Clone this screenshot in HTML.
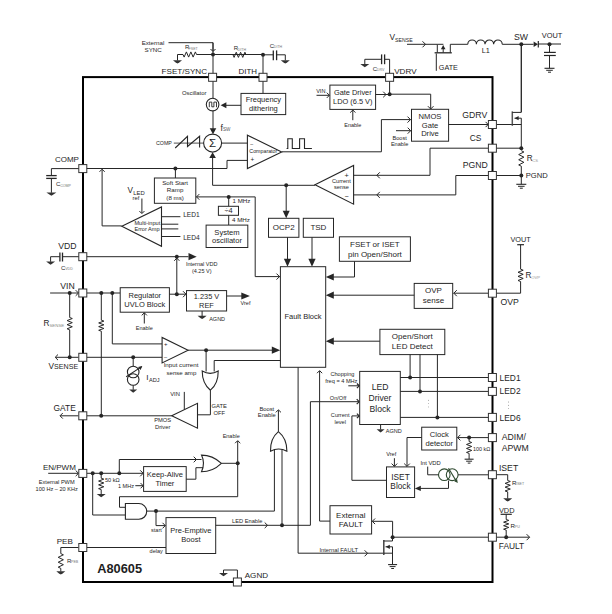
<!DOCTYPE html>
<html><head><meta charset="utf-8"><style>
html,body{margin:0;padding:0;background:#fff;}
svg{display:block;}
text{font-family:"Liberation Sans",sans-serif;}
</style></head><body>
<svg width="612" height="614" viewBox="0 0 612 614">
<rect x="0" y="0" width="612" height="614" fill="#fff"/>
<text x="153" y="45.03" font-size="6.2" text-anchor="middle" fill="#1e1e1e" >External</text>
<text x="153.2" y="52.43" font-size="6.2" text-anchor="middle" fill="#1e1e1e" >SYNC</text>
<polyline points="168.5,42.7 213,42.7 213,51" fill="none" stroke="#262626" stroke-width="1.0" stroke-linejoin="miter"/>
<polyline points="210.5,49.0 213,51.5 215.5,49.0" fill="none" stroke="#262626" stroke-width="1.0" stroke-linejoin="miter"/>
<line x1="213" y1="42.7" x2="213" y2="77.1" stroke="#262626" stroke-width="1.0"/>
<circle cx="213" cy="54.5" r="2.0" fill="#262626"/>
<line x1="177.5" y1="54.5" x2="183" y2="54.5" stroke="#262626" stroke-width="1.0"/>
<polyline points="183,54.5 184.125,57.1 186.375,51.9 188.625,57.1 190.875,51.9 193.125,57.1 195.375,51.9 196.5,54.5" fill="none" stroke="#262626" stroke-width="1.0" stroke-linejoin="miter"/>
<line x1="196.5" y1="54.5" x2="263" y2="54.5" stroke="#262626" stroke-width="1.0"/>
<polyline points="177.5,54.5 177.5,60.5" fill="none" stroke="#262626" stroke-width="1.0" stroke-linejoin="miter"/>
<polygon points="173.0,60.3 182.0,60.3 179.3,62.4 177.5,63.599999999999994 175.7,62.4" fill="#333" stroke="none" stroke-width="1.0"/>
<text x="184.9" y="49.46" font-size="6.0" text-anchor="start" fill="#1e1e1e" >R</text>
<text x="188.6" y="49.9" font-size="3.6" text-anchor="start" fill="#777" >FSET</text>
<circle cx="263" cy="54.8" r="2.0" fill="#262626"/>
<polyline points="233,54.8 234.08333333333334,57.4 236.25,52.199999999999996 238.41666666666666,57.4 240.58333333333334,52.199999999999996 242.75,57.4 244.91666666666666,52.199999999999996 246,54.8" fill="none" stroke="#262626" stroke-width="1.0" stroke-linejoin="miter"/>
<line x1="263" y1="54.8" x2="273.3" y2="54.8" stroke="#262626" stroke-width="1.0"/>
<line x1="273.3" y1="50.4" x2="273.3" y2="60.2" stroke="#262626" stroke-width="1.3"/>
<line x1="276.6" y1="50.4" x2="276.6" y2="60.2" stroke="#262626" stroke-width="1.3"/>
<polyline points="276.6,54.8 285.3,54.8 285.3,60.4" fill="none" stroke="#262626" stroke-width="1.0" stroke-linejoin="miter"/>
<polygon points="280.8,60.3 289.8,60.3 287.1,62.4 285.3,63.599999999999994 283.5,62.4" fill="#333" stroke="none" stroke-width="1.0"/>
<text x="233.8" y="50.16" font-size="6.0" text-anchor="start" fill="#1e1e1e" >R</text>
<text x="237.6" y="50.5" font-size="3.6" text-anchor="start" fill="#777" >DITH</text>
<text x="269.8" y="47.76" font-size="6.0" text-anchor="start" fill="#1e1e1e" >C</text>
<text x="273.8" y="48.1" font-size="3.6" text-anchor="start" fill="#777" >DITH</text>
<line x1="263" y1="54.8" x2="263" y2="93.4" stroke="#262626" stroke-width="1.0"/>
<polyline points="389.6,77.1 389.6,59.3 384.6,59.3" fill="none" stroke="#262626" stroke-width="1.0" stroke-linejoin="miter"/>
<line x1="384.6" y1="54.4" x2="384.6" y2="64.2" stroke="#262626" stroke-width="1.3"/>
<line x1="381.6" y1="54.4" x2="381.6" y2="64.2" stroke="#262626" stroke-width="1.3"/>
<polyline points="381.6,59.3 364.8,59.3 364.8,64.2" fill="none" stroke="#262626" stroke-width="1.0" stroke-linejoin="miter"/>
<polygon points="360.3,64.0 369.3,64.0 366.6,66.1 364.8,67.3 363.0,66.1" fill="#333" stroke="none" stroke-width="1.0"/>
<text x="372.8" y="70.96" font-size="6.0" text-anchor="start" fill="#1e1e1e" >C</text>
<text x="376.8" y="71.2" font-size="3.6" text-anchor="start" fill="#777" >DRV</text>
<text x="389.5" y="39.89" font-size="8.3" text-anchor="start" fill="#1e1e1e" >V</text>
<text x="395.0" y="42.07" font-size="5.2" text-anchor="start" fill="#1e1e1e" >SENSE</text>
<line x1="407" y1="44.3" x2="437.3" y2="44.3" stroke="#262626" stroke-width="1.0"/>
<polyline points="422.5,41.3 425.5,44.3 422.5,47.3" fill="none" stroke="#262626" stroke-width="1.0" stroke-linejoin="miter"/>
<line x1="437.3" y1="44.3" x2="437.3" y2="52.5" stroke="#262626" stroke-width="1.0"/>
<line x1="434.6" y1="52.8" x2="451.8" y2="52.8" stroke="#262626" stroke-width="1.3"/>
<line x1="450.3" y1="52.5" x2="450.3" y2="44.3" stroke="#262626" stroke-width="1.0"/>
<line x1="437.3" y1="44.3" x2="443.4" y2="44.3" stroke="#262626" stroke-width="1.0"/>
<line x1="450.3" y1="44.3" x2="467.8" y2="44.3" stroke="#262626" stroke-width="1.0"/>
<line x1="443.2" y1="48.5" x2="443.2" y2="52.5" stroke="#262626" stroke-width="1.0"/>
<polygon points="443.2,45.0 440.9,49.3 445.5,49.3" fill="#262626" stroke="none" stroke-width="1.0"/>
<line x1="436.3" y1="53.5" x2="436.3" y2="70.8" stroke="#262626" stroke-width="1.0"/>
<text x="438.8" y="70.19" font-size="7.2" text-anchor="start" fill="#1e1e1e" >GATE</text>
<path d="M467.8,44.3 a4.3,4.3 0 0 1 8.6,0 a4.3,4.3 0 0 1 8.6,0 a4.3,4.3 0 0 1 8.6,0 a4.3,4.3 0 0 1 8.6,0" fill="none" stroke="#262626" stroke-width="1.1"/>
<text x="485.7" y="53.13" font-size="7.3" text-anchor="middle" fill="#1e1e1e" >L1</text>
<line x1="502.2" y1="44.3" x2="533.5" y2="44.3" stroke="#262626" stroke-width="1.0"/>
<circle cx="521.3" cy="44.2" r="2.0" fill="#262626"/>
<text x="520.9" y="40.13" font-size="8.7" text-anchor="middle" fill="#1e1e1e" >SW</text>
<polygon points="533.6,41.4 533.6,47.0 538.0,44.2" fill="#262626" stroke="none" stroke-width="1.0"/>
<line x1="538.3" y1="41.0" x2="538.3" y2="47.4" stroke="#262626" stroke-width="1.2"/>
<line x1="538" y1="44.0" x2="561" y2="44.0" stroke="#262626" stroke-width="1.0"/>
<circle cx="549.5" cy="44.2" r="2.0" fill="#262626"/>
<text x="541.8" y="37.76" font-size="7.4" text-anchor="start" fill="#1e1e1e" >VOUT</text>
<line x1="549.5" y1="44.2" x2="549.5" y2="52.4" stroke="#262626" stroke-width="1.0"/>
<line x1="544" y1="52.4" x2="555.8" y2="52.4" stroke="#262626" stroke-width="1.2"/>
<line x1="544" y1="55.5" x2="555.8" y2="55.5" stroke="#262626" stroke-width="1.2"/>
<line x1="549.5" y1="55.3" x2="549.5" y2="68.2" stroke="#262626" stroke-width="1.0"/>
<line x1="544.5" y1="68.3" x2="554.5" y2="68.3" stroke="#262626" stroke-width="1.1"/>
<line x1="546.2" y1="70.3" x2="552.8" y2="70.3" stroke="#262626" stroke-width="1.0"/>
<line x1="548.0" y1="72.2" x2="551.0" y2="72.2" stroke="#262626" stroke-width="1.0"/>
<line x1="521.3" y1="44.2" x2="521.3" y2="112" stroke="#262626" stroke-width="1.0"/>
<rect x="83.0" y="77.1" width="409.5" height="504.9" fill="none" stroke="#000" stroke-width="2.0"/>
<text x="194.2" y="94.72" font-size="5.9" text-anchor="middle" fill="#1e1e1e" >Oscillator</text>
<line x1="213" y1="77.1" x2="213" y2="98.6" stroke="#262626" stroke-width="1.0"/>
<circle cx="212.6" cy="104.6" r="6.3" fill="none" stroke="#262626" stroke-width="1.1"/>
<path d="M209.3,107.2 V102.1 H211.8 V106.8 H213.9 V102.1 H216.5 V107.2" fill="none" stroke="#262626" stroke-width="0.9"/>
<line x1="213" y1="111" x2="213" y2="129" stroke="#262626" stroke-width="1.0"/>
<polygon points="213,134.2 209.7,128.2 216.3,128.2" fill="#262626" stroke="none" stroke-width="1.0"/>
<rect x="241" y="93.4" width="44.69999999999999" height="21.19999999999999" fill="#fff" stroke="#262626" stroke-width="1.0"/>
<text x="263.4" y="101.7" font-size="7.5" text-anchor="middle" fill="#1e1e1e" >Frequency</text>
<text x="263.4" y="110.8" font-size="7.5" text-anchor="middle" fill="#1e1e1e" >dithering</text>
<line x1="241" y1="105.3" x2="225" y2="105.3" stroke="#262626" stroke-width="1.0"/>
<polygon points="220.6,105.3 226.4,102.3 226.4,108.3" fill="#262626" stroke="none" stroke-width="1.0"/>
<text x="220.6" y="130.5" font-size="8.6" text-anchor="start" fill="#1e1e1e" >f</text>
<text x="222.9" y="130.8" font-size="4.6" text-anchor="start" fill="#555" >SW</text>
<circle cx="212.6" cy="143.1" r="9.0" fill="none" stroke="#262626" stroke-width="1.1"/>
<text x="212.6" y="147.3" font-size="11.5" text-anchor="middle" fill="#1e1e1e" >&#931;</text>
<polygon points="212.6,152.3 209.29999999999998,158.10000000000002 215.9,158.10000000000002" fill="#262626" stroke="none" stroke-width="1.0"/>
<polyline points="212.6,158 212.6,185.3 315,185.3" fill="none" stroke="#262626" stroke-width="1.0" stroke-linejoin="miter"/>
<text x="163.9" y="145.01" font-size="5.3" text-anchor="middle" fill="#1e1e1e" >COMP</text>
<line x1="173.8" y1="143.1" x2="203.6" y2="143.1" stroke="#262626" stroke-width="0.8"/>
<polyline points="175.2,148 187.5,136.3 187.5,146.5 199.6,136.3 199.6,147.6" fill="none" stroke="#262626" stroke-width="1.1" stroke-linejoin="miter"/>
<line x1="221.6" y1="143.1" x2="247.4" y2="143.1" stroke="#262626" stroke-width="1.0"/>
<polygon points="247.4,135.2 247.4,168.6 281.7,151.9" fill="#fff" stroke="#262626" stroke-width="1.1"/>
<text x="263.3" y="153.21" font-size="5.3" text-anchor="middle" fill="#1e1e1e" >Comparator</text>
<text x="250.3" y="145.8" font-size="5.2" text-anchor="start" fill="#1e1e1e" >&#8211;</text>
<text x="250.5" y="161.9" font-size="6.3" text-anchor="start" fill="#1e1e1e" >+</text>
<polyline points="82.9,168.5 227,168.5 227,160.4 247.4,160.4" fill="none" stroke="#262626" stroke-width="1.0" stroke-linejoin="miter"/>
<polyline points="281.7,151.8 381.4,151.8 381.4,119.6 410.5,119.6" fill="none" stroke="#262626" stroke-width="1.0" stroke-linejoin="miter"/>
<polyline points="407.5,116.6 410.5,119.6 407.5,122.6" fill="none" stroke="#262626" stroke-width="1.0" stroke-linejoin="miter"/>
<polyline points="286.6,148.5 287.8,148.5 287.8,138.7 292.3,138.7 292.3,148.5 299.6,148.5 299.6,138.7 304.5,138.7 304.5,148.5 311.9,148.5" fill="none" stroke="#262626" stroke-width="1.1" stroke-linejoin="miter"/>
<circle cx="175.4" cy="168.5" r="2.0" fill="#262626"/>
<line x1="175.4" y1="168.5" x2="175.4" y2="178" stroke="#262626" stroke-width="1.0"/>
<rect x="154.4" y="178" width="41.400000000000006" height="25.30000000000001" fill="#fff" stroke="#262626" stroke-width="1.0"/>
<text x="175.1" y="184.63" font-size="6.2" text-anchor="middle" fill="#1e1e1e" >Soft Start</text>
<text x="175.1" y="192.43" font-size="6.2" text-anchor="middle" fill="#1e1e1e" >Ramp</text>
<text x="175.1" y="200.13" font-size="6.2" text-anchor="middle" fill="#1e1e1e" >(8 ms)</text>
<polyline points="196.3,196.9 255.2,196.9 255.2,276.6 280,276.6" fill="none" stroke="#262626" stroke-width="1.0" stroke-linejoin="miter"/>
<polyline points="199.3,194.1 196.5,196.9 199.3,199.70000000000002" fill="none" stroke="#262626" stroke-width="1.0" stroke-linejoin="miter"/>
<polyline points="276.5,273.6 279.5,276.6 276.5,279.6" fill="none" stroke="#262626" stroke-width="1.0" stroke-linejoin="miter"/>
<circle cx="228.7" cy="196.9" r="2.0" fill="#262626"/>
<line x1="228.7" y1="196.9" x2="228.7" y2="206.3" stroke="#262626" stroke-width="1.0"/>
<rect x="218.4" y="206.3" width="20.099999999999994" height="9.0" fill="#fff" stroke="#262626" stroke-width="1.0"/>
<text x="228.5" y="213.46" font-size="7.4" text-anchor="middle" fill="#1e1e1e" >&#247;4</text>
<text x="232.5" y="203.43" font-size="6.2" text-anchor="start" fill="#1e1e1e" >1 MHz</text>
<text x="232.0" y="222.03" font-size="6.2" text-anchor="start" fill="#1e1e1e" >4 MHz</text>
<line x1="228.7" y1="215.3" x2="228.7" y2="225.1" stroke="#262626" stroke-width="1.0"/>
<rect x="206.1" y="225.1" width="41.70000000000002" height="22.400000000000006" fill="#fff" stroke="#262626" stroke-width="1.0"/>
<text x="227" y="234.54" font-size="7.6" text-anchor="middle" fill="#1e1e1e" >System</text>
<text x="227" y="243.14" font-size="7.6" text-anchor="middle" fill="#1e1e1e" >oscillator</text>
<line x1="82.9" y1="168.5" x2="84" y2="168.5" stroke="#262626" stroke-width="1.0"/>
<polyline points="121.7,225.9 102.1,225.9 102.1,169.5" fill="none" stroke="#262626" stroke-width="1.0" stroke-linejoin="miter"/>
<polyline points="99.5,171.79999999999998 102.1,169.2 104.69999999999999,171.79999999999998" fill="none" stroke="#262626" stroke-width="1.0" stroke-linejoin="miter"/>
<polygon points="121.8,226.2 161.5,207 161.5,246.3" fill="#fff" stroke="#262626" stroke-width="1.1"/>
<text x="147.3" y="224.92" font-size="5.6" text-anchor="middle" fill="#1e1e1e" >Multi-input</text>
<text x="147.0" y="231.42" font-size="5.6" text-anchor="middle" fill="#1e1e1e" >Error Amp</text>
<line x1="161.5" y1="216.7" x2="180.4" y2="216.7" stroke="#262626" stroke-width="1.0"/>
<line x1="161.5" y1="224.2" x2="178.3" y2="224.2" stroke="#262626" stroke-width="1.0"/>
<line x1="161.5" y1="228.9" x2="178.3" y2="228.9" stroke="#262626" stroke-width="1.0"/>
<line x1="161.5" y1="236.5" x2="180.4" y2="236.5" stroke="#262626" stroke-width="1.0"/>
<text x="183.2" y="217.18" font-size="6.6" text-anchor="start" fill="#1e1e1e" >LED1</text>
<text x="183.2" y="239.98" font-size="6.6" text-anchor="start" fill="#1e1e1e" >LED4</text>
<text x="127.6" y="193.25" font-size="8.2" text-anchor="start" fill="#1e1e1e" >V</text>
<text x="133.2" y="195.02" font-size="5.9" text-anchor="start" fill="#1e1e1e" >LED</text>
<text x="136" y="200.29" font-size="5.8" text-anchor="middle" fill="#1e1e1e" >ref</text>
<line x1="141.9" y1="198.5" x2="141.9" y2="213" stroke="#262626" stroke-width="1.0"/>
<polyline points="139.4,211.1 141.9,213.6 144.4,211.1" fill="none" stroke="#262626" stroke-width="1.0" stroke-linejoin="miter"/>
<polyline points="82.9,168.6 51.4,168.6 51.4,175.6" fill="none" stroke="#262626" stroke-width="1.0" stroke-linejoin="miter"/>
<line x1="46.2" y1="175.6" x2="56.7" y2="175.6" stroke="#262626" stroke-width="1.3"/>
<line x1="46.2" y1="178.4" x2="56.7" y2="178.4" stroke="#262626" stroke-width="1.3"/>
<line x1="51.4" y1="178.4" x2="51.4" y2="192.8" stroke="#262626" stroke-width="1.0"/>
<polygon points="46.4,192.5 56.4,192.5 53.4,194.6 51.4,195.8 49.4,194.6" fill="#333" stroke="none" stroke-width="1.0"/>
<text x="56" y="186.16" font-size="6.0" text-anchor="start" fill="#1e1e1e" >C</text>
<text x="60.2" y="186.5" font-size="3.6" text-anchor="start" fill="#777" >COMP</text>
<rect x="329.9" y="85.1" width="45.700000000000045" height="24.30000000000001" fill="#fff" stroke="#262626" stroke-width="1.0"/>
<text x="352.8" y="94.76" font-size="7.4" text-anchor="middle" fill="#1e1e1e" >Gate Driver</text>
<text x="352.8" y="104.26" font-size="7.4" text-anchor="middle" fill="#1e1e1e" >LDO (6.5 V)</text>
<text x="320.8" y="93.22" font-size="5.6" text-anchor="middle" fill="#1e1e1e" >VIN</text>
<line x1="316.5" y1="95.3" x2="329.4" y2="95.3" stroke="#262626" stroke-width="1.0"/>
<polyline points="326.79999999999995,92.7 329.4,95.3 326.79999999999995,97.89999999999999" fill="none" stroke="#262626" stroke-width="1.0" stroke-linejoin="miter"/>
<line x1="352.8" y1="110" x2="352.8" y2="120.2" stroke="#262626" stroke-width="1.0"/>
<polyline points="350.2,112.6 352.8,110 355.40000000000003,112.6" fill="none" stroke="#262626" stroke-width="1.0" stroke-linejoin="miter"/>
<text x="352.8" y="126.58" font-size="5.5" text-anchor="middle" fill="#1e1e1e" >Enable</text>
<line x1="375.6" y1="94.5" x2="389.6" y2="94.5" stroke="#262626" stroke-width="1.0"/>
<polyline points="383.2,91.7 386,94.5 383.2,97.3" fill="none" stroke="#262626" stroke-width="1.0" stroke-linejoin="miter"/>
<line x1="389.6" y1="77.1" x2="389.6" y2="94.2" stroke="#262626" stroke-width="1.0"/>
<circle cx="389.6" cy="94.2" r="2.0" fill="#262626"/>
<polyline points="389.6,94.2 430.7,94.2 430.7,108.7" fill="none" stroke="#262626" stroke-width="1.0" stroke-linejoin="miter"/>
<polyline points="427.9,106.2 430.7,109.0 433.5,106.2" fill="none" stroke="#262626" stroke-width="1.0" stroke-linejoin="miter"/>
<rect x="411.5" y="109.3" width="37.10000000000002" height="31.89999999999999" fill="#fff" stroke="#262626" stroke-width="1.0"/>
<text x="430" y="119.04" font-size="7.6" text-anchor="middle" fill="#1e1e1e" >NMOS</text>
<text x="430" y="127.84" font-size="7.6" text-anchor="middle" fill="#1e1e1e" >Gate</text>
<text x="430" y="136.44" font-size="7.6" text-anchor="middle" fill="#1e1e1e" >Drive</text>
<line x1="396" y1="130.7" x2="410.7" y2="130.7" stroke="#262626" stroke-width="1.0"/>
<polyline points="407.7,127.69999999999999 410.7,130.7 407.7,133.7" fill="none" stroke="#262626" stroke-width="1.0" stroke-linejoin="miter"/>
<text x="399.6" y="139.92" font-size="5.6" text-anchor="middle" fill="#1e1e1e" >Boost</text>
<text x="399.6" y="146.22" font-size="5.6" text-anchor="middle" fill="#1e1e1e" >Enable</text>
<line x1="448.6" y1="124.5" x2="488.2" y2="124.5" stroke="#262626" stroke-width="1.0"/>
<polyline points="485.59999999999997,121.9 488.2,124.5 485.59999999999997,127.1" fill="none" stroke="#262626" stroke-width="1.0" stroke-linejoin="miter"/>
<line x1="496.4" y1="124.5" x2="512.3" y2="124.5" stroke="#262626" stroke-width="1.0"/>
<line x1="512.3" y1="111.4" x2="512.3" y2="125.8" stroke="#555" stroke-width="1.5"/>
<polyline points="512.3,112.4 521.3,112.4 521.3,44.2" fill="none" stroke="#262626" stroke-width="1.0" stroke-linejoin="miter"/>
<line x1="512.3" y1="124.5" x2="521.3" y2="124.5" stroke="#262626" stroke-width="1.0"/>
<line x1="514.5" y1="118.2" x2="521.3" y2="118.2" stroke="#262626" stroke-width="1.0"/>
<line x1="521.3" y1="118.2" x2="521.3" y2="148.2" stroke="#262626" stroke-width="1.0"/>
<polygon points="514.6,118.2 518.6,116.1 518.6,120.3" fill="#262626" stroke="none" stroke-width="1.0"/>
<line x1="496.4" y1="148.2" x2="521.3" y2="148.2" stroke="#262626" stroke-width="1.0"/>
<circle cx="521.3" cy="148.2" r="2.0" fill="#262626"/>
<polyline points="521.3,150.7 523.9,151.99166666666665 518.6999999999999,154.575 523.9,157.15833333333333 518.6999999999999,159.74166666666665 523.9,162.325 518.6999999999999,164.90833333333333 521.3,166.2" fill="none" stroke="#262626" stroke-width="1.0" stroke-linejoin="miter"/>
<line x1="521.3" y1="166.2" x2="521.3" y2="175.5" stroke="#262626" stroke-width="1.0"/>
<circle cx="521.3" cy="175.5" r="2.0" fill="#262626"/>
<line x1="496.4" y1="175.5" x2="521.3" y2="175.5" stroke="#262626" stroke-width="1.0"/>
<line x1="521.3" y1="175.5" x2="521.3" y2="184.2" stroke="#262626" stroke-width="1.0"/>
<line x1="516.3" y1="184.3" x2="526.3" y2="184.3" stroke="#262626" stroke-width="1.1"/>
<line x1="518.0" y1="186.3" x2="524.5999999999999" y2="186.3" stroke="#262626" stroke-width="1.0"/>
<line x1="519.8" y1="188.20000000000002" x2="522.8" y2="188.20000000000002" stroke="#262626" stroke-width="1.0"/>
<text x="526.8" y="161.15" font-size="8.2" text-anchor="start" fill="#1e1e1e" >R</text>
<text x="532.3" y="161.51" font-size="4.2" text-anchor="start" fill="#999" >CS</text>
<text x="525.8" y="178.04" font-size="7.6" text-anchor="start" fill="#1e1e1e" >PGND</text>
<polygon points="315,184.8 353.6,165.5 353.6,204.2" fill="#fff" stroke="#262626" stroke-width="1.1"/>
<text x="341.4" y="182.82" font-size="5.6" text-anchor="middle" fill="#1e1e1e" >Current</text>
<text x="341.4" y="189.42" font-size="5.6" text-anchor="middle" fill="#1e1e1e" >sense</text>
<text x="344.6" y="178.2" font-size="7.2" text-anchor="start" fill="#1e1e1e" >+</text>
<text x="344.6" y="199.0" font-size="7.2" text-anchor="start" fill="#1e1e1e" >&#8722;</text>
<polyline points="353.6,175.3 430,175.3 430,148.2 488.4,148.2" fill="none" stroke="#262626" stroke-width="1.0" stroke-linejoin="miter"/>
<polyline points="379.8,172.3 376.8,175.3 379.8,178.3" fill="none" stroke="#262626" stroke-width="1.0" stroke-linejoin="miter"/>
<polyline points="353.6,194.9 455.8,194.9 455.8,175.5 488.4,175.5" fill="none" stroke="#262626" stroke-width="1.0" stroke-linejoin="miter"/>
<polyline points="379.8,191.9 376.8,194.9 379.8,197.9" fill="none" stroke="#262626" stroke-width="1.0" stroke-linejoin="miter"/>
<circle cx="286.2" cy="185.3" r="2.0" fill="#262626"/>
<line x1="286.2" y1="185.3" x2="286.2" y2="211" stroke="#262626" stroke-width="1.0"/>
<polygon points="286.2,218.3 282.7,210.8 289.7,210.8" fill="#262626" stroke="none" stroke-width="1.0"/>
<rect x="268.5" y="218.3" width="30.399999999999977" height="19.0" fill="#fff" stroke="#262626" stroke-width="1.0"/>
<text x="283.7" y="230.48" font-size="8" text-anchor="middle" fill="#1e1e1e" >OCP2</text>
<rect x="303.3" y="218.3" width="30.19999999999999" height="19.0" fill="#fff" stroke="#262626" stroke-width="1.0"/>
<text x="318.4" y="230.48" font-size="8" text-anchor="middle" fill="#1e1e1e" >TSD</text>
<line x1="287.5" y1="237.3" x2="287.5" y2="259" stroke="#262626" stroke-width="1.0"/>
<polygon points="287.5,266.7 283.9,258.7 291.1,258.7" fill="#262626" stroke="none" stroke-width="1.0"/>
<line x1="312.0" y1="237.3" x2="312.0" y2="259" stroke="#262626" stroke-width="1.0"/>
<polygon points="312.0,266.7 308.4,258.7 315.6,258.7" fill="#262626" stroke="none" stroke-width="1.0"/>
<rect x="339.4" y="236.8" width="71.0" height="24.5" fill="#fff" stroke="#262626" stroke-width="1.0"/>
<text x="374.9" y="246.78" font-size="8" text-anchor="middle" fill="#1e1e1e" >FSET or ISET</text>
<text x="374.9" y="256.88" font-size="8" text-anchor="middle" fill="#1e1e1e" >pin Open/Short</text>
<polyline points="354.5,261.3 354.5,277 333,277" fill="none" stroke="#262626" stroke-width="1.0" stroke-linejoin="miter"/>
<polygon points="325.8,277 333.8,273.4 333.8,280.6" fill="#262626" stroke="none" stroke-width="1.0"/>
<rect x="280.4" y="266.7" width="45.30000000000001" height="100.60000000000002" fill="#fff" stroke="#262626" stroke-width="1.0"/>
<text x="303" y="319.2" font-size="7.5" text-anchor="middle" fill="#1e1e1e" >Fault Block</text>
<rect x="414.2" y="283.4" width="38.5" height="25.0" fill="#fff" stroke="#262626" stroke-width="1.0"/>
<text x="433.5" y="293.18" font-size="8" text-anchor="middle" fill="#1e1e1e" >OVP</text>
<text x="433.5" y="303.28" font-size="8" text-anchor="middle" fill="#1e1e1e" >sense</text>
<line x1="414.2" y1="295.2" x2="333" y2="295.2" stroke="#262626" stroke-width="1.0"/>
<polygon points="325.8,295.2 333.8,291.59999999999997 333.8,298.8" fill="#262626" stroke="none" stroke-width="1.0"/>
<line x1="453.5" y1="293.2" x2="488.4" y2="293.2" stroke="#262626" stroke-width="1.0"/>
<polyline points="456.8,290.2 453.8,293.2 456.8,296.2" fill="none" stroke="#262626" stroke-width="1.0" stroke-linejoin="miter"/>
<polyline points="496.4,293.2 520.6,293.2 520.6,281.5" fill="none" stroke="#262626" stroke-width="1.0" stroke-linejoin="miter"/>
<polyline points="520.6,269.2 523.2,270.22499999999997 518.0,272.275 523.2,274.325 518.0,276.375 523.2,278.425 518.0,280.475 520.6,281.5" fill="none" stroke="#262626" stroke-width="1.0" stroke-linejoin="miter"/>
<line x1="520.6" y1="269.2" x2="520.6" y2="244.7" stroke="#262626" stroke-width="1.0"/>
<line x1="517.2" y1="244.7" x2="524.0" y2="244.7" stroke="#262626" stroke-width="1.2"/>
<text x="520.6" y="241.83" font-size="7.3" text-anchor="middle" fill="#1e1e1e" >VOUT</text>
<text x="525.6" y="278.35" font-size="8.2" text-anchor="start" fill="#1e1e1e" >R</text>
<text x="531.2" y="278.71" font-size="4.2" text-anchor="start" fill="#999" >OVP</text>
<polyline points="82.9,256.7 62.5,256.7" fill="none" stroke="#262626" stroke-width="1.0" stroke-linejoin="miter"/>
<line x1="62.5" y1="252.6" x2="62.5" y2="261.5" stroke="#262626" stroke-width="1.3"/>
<line x1="59.9" y1="252.6" x2="59.9" y2="261.5" stroke="#262626" stroke-width="1.3"/>
<polyline points="59.9,256.7 50.6,256.7 50.6,261.8" fill="none" stroke="#262626" stroke-width="1.0" stroke-linejoin="miter"/>
<polygon points="46.1,261.5 55.1,261.5 52.4,263.6 50.6,264.8 48.800000000000004,263.6" fill="#333" stroke="none" stroke-width="1.0"/>
<text x="61" y="269.76" font-size="6.0" text-anchor="start" fill="#1e1e1e" >C</text>
<text x="65.2" y="270.1" font-size="3.6" text-anchor="start" fill="#777" >VDD</text>
<line x1="82.9" y1="256.7" x2="188.5" y2="256.7" stroke="#262626" stroke-width="1.0"/>
<circle cx="176.8" cy="256.7" r="2.0" fill="#262626"/>
<polygon points="196.7,256.7 188.5,253.1 188.5,260.3" fill="#262626" stroke="none" stroke-width="1.0"/>
<text x="201.7" y="266.48" font-size="5.5" text-anchor="middle" fill="#1e1e1e" >Internal VDD</text>
<text x="201.7" y="272.58" font-size="5.5" text-anchor="middle" fill="#1e1e1e" >(4.25 V)</text>
<line x1="176.8" y1="257.5" x2="176.8" y2="294.2" stroke="#262626" stroke-width="1.0"/>
<polyline points="174.20000000000002,260.8 176.8,258.2 179.4,260.8" fill="none" stroke="#262626" stroke-width="1.0" stroke-linejoin="miter"/>
<line x1="50.1" y1="293" x2="78.5" y2="293" stroke="#262626" stroke-width="1.0"/>
<polyline points="75.7,290.2 78.5,293 75.7,295.8" fill="none" stroke="#262626" stroke-width="1.0" stroke-linejoin="miter"/>
<circle cx="69.7" cy="293" r="2.0" fill="#262626"/>
<polyline points="69.7,293 69.7,317.5" fill="none" stroke="#262626" stroke-width="1.0" stroke-linejoin="miter"/>
<polyline points="69.7,317.5 72.3,318.525 67.10000000000001,320.575 72.3,322.625 67.10000000000001,324.675 72.3,326.725 67.10000000000001,328.77500000000003 69.7,329.8" fill="none" stroke="#262626" stroke-width="1.0" stroke-linejoin="miter"/>
<line x1="69.7" y1="329.8" x2="69.7" y2="357.3" stroke="#262626" stroke-width="1.0"/>
<circle cx="69.7" cy="357.3" r="2.0" fill="#262626"/>
<text x="43.6" y="326.25" font-size="8.2" text-anchor="start" fill="#1e1e1e" >R</text>
<text x="49.4" y="326.58" font-size="4.4" text-anchor="start" fill="#888" >SENSE</text>
<line x1="87" y1="293" x2="120.2" y2="293" stroke="#262626" stroke-width="1.0"/>
<circle cx="101.3" cy="293" r="2.0" fill="#262626"/>
<circle cx="112.3" cy="293" r="2.0" fill="#262626"/>
<line x1="101.3" y1="293" x2="101.3" y2="320.2" stroke="#262626" stroke-width="1.0"/>
<polyline points="101.3,320.2 103.89999999999999,321.1166666666667 98.7,322.95 103.89999999999999,324.7833333333333 98.7,326.6166666666667 103.89999999999999,328.45 98.7,330.2833333333333 101.3,331.2" fill="none" stroke="#262626" stroke-width="1.0" stroke-linejoin="miter"/>
<line x1="101.3" y1="331.2" x2="101.3" y2="415.8" stroke="#262626" stroke-width="1.0"/>
<polyline points="112.3,293 112.3,343.9 162.1,343.9" fill="none" stroke="#262626" stroke-width="1.0" stroke-linejoin="miter"/>
<rect x="120.2" y="287.7" width="49.2" height="24.5" fill="#fff" stroke="#262626" stroke-width="1.0"/>
<text x="144.8" y="298.4" font-size="7.5" text-anchor="middle" fill="#1e1e1e" >Regulator</text>
<text x="144.8" y="306.8" font-size="7.5" text-anchor="middle" fill="#1e1e1e" >UVLO Block</text>
<line x1="144.3" y1="312.8" x2="144.3" y2="323.5" stroke="#262626" stroke-width="1.0"/>
<polyline points="141.70000000000002,315.40000000000003 144.3,312.8 146.9,315.40000000000003" fill="none" stroke="#262626" stroke-width="1.0" stroke-linejoin="miter"/>
<text x="144.3" y="329.58" font-size="5.5" text-anchor="middle" fill="#1e1e1e" >Enable</text>
<line x1="169.4" y1="294.2" x2="186" y2="294.2" stroke="#262626" stroke-width="1.0"/>
<circle cx="176.8" cy="294.2" r="2.0" fill="#262626"/>
<polyline points="183.0,291.2 186.0,294.2 183.0,297.2" fill="none" stroke="#262626" stroke-width="1.0" stroke-linejoin="miter"/>
<rect x="186.5" y="290.6" width="40.099999999999994" height="20.399999999999977" fill="#fff" stroke="#262626" stroke-width="1.0"/>
<text x="206.5" y="299.06" font-size="7.4" text-anchor="middle" fill="#1e1e1e" >1.235 V</text>
<text x="206.5" y="307.56" font-size="7.4" text-anchor="middle" fill="#1e1e1e" >REF</text>
<line x1="226.6" y1="296" x2="242" y2="296" stroke="#262626" stroke-width="1.0"/>
<polygon points="249.9,296 241.3,292.4 241.3,299.6" fill="#262626" stroke="none" stroke-width="1.0"/>
<text x="245.5" y="304.98" font-size="5.5" text-anchor="middle" fill="#1e1e1e" >Vref</text>
<line x1="202.1" y1="311" x2="202.1" y2="316.1" stroke="#262626" stroke-width="1.0"/>
<polygon points="197.6,315.8 206.6,315.8 203.9,317.90000000000003 202.1,319.1 200.29999999999998,317.90000000000003" fill="#333" stroke="none" stroke-width="1.0"/>
<text x="209.2" y="320.98" font-size="5.5" text-anchor="start" fill="#1e1e1e" >AGND</text>
<line x1="55.5" y1="357.3" x2="78.5" y2="357.3" stroke="#262626" stroke-width="1.0"/>
<polyline points="58.0,354.5 55.2,357.3 58.0,360.1" fill="none" stroke="#262626" stroke-width="1.0" stroke-linejoin="miter"/>
<text x="48.4" y="369.19" font-size="8.3" text-anchor="start" fill="#1e1e1e" >V</text>
<text x="54.1" y="369.16" font-size="7.1" text-anchor="start" fill="#1e1e1e" >SENSE</text>
<line x1="87" y1="357.3" x2="162.1" y2="357.3" stroke="#262626" stroke-width="1.0"/>
<circle cx="133.2" cy="357.3" r="2.0" fill="#262626"/>
<line x1="133.2" y1="357.3" x2="133.2" y2="366.4" stroke="#262626" stroke-width="1.0"/>
<circle cx="133.2" cy="372.0" r="5.8" fill="none" stroke="#262626" stroke-width="1.1"/>
<circle cx="133.2" cy="379.5" r="5.8" fill="none" stroke="#262626" stroke-width="1.1"/>
<line x1="126.2" y1="376.8" x2="141.7" y2="366.6" stroke="#262626" stroke-width="1.1"/>
<polyline points="141.7,366.6 141.7,366.6 141.7,366.6" fill="none" stroke="#262626" stroke-width="1.0" stroke-linejoin="miter"/>
<polygon points="142.3,366.1 138.0,366.9 140.6,370.0" fill="#262626" stroke="none" stroke-width="1.0"/>
<line x1="133.2" y1="385.3" x2="133.2" y2="389.8" stroke="#262626" stroke-width="1.0"/>
<polygon points="129.2,389.5 137.2,389.5 134.79999999999998,391.6 133.2,392.8 131.6,391.6" fill="#333" stroke="none" stroke-width="1.0"/>
<text x="146.3" y="380.18" font-size="8" text-anchor="start" fill="#1e1e1e" >I</text>
<text x="149.0" y="381.62" font-size="5.6" text-anchor="start" fill="#1e1e1e" >ADJ</text>
<polygon points="162.1,337.4 162.1,362.9 188.1,350.2" fill="#fff" stroke="#262626" stroke-width="1.1"/>
<text x="164.0" y="345.6" font-size="6.0" text-anchor="start" fill="#1e1e1e" >+</text>
<text x="164.0" y="359.0" font-size="5.5" text-anchor="start" fill="#1e1e1e" >&#8211;</text>
<text x="181.0" y="367.03" font-size="6.2" text-anchor="middle" fill="#1e1e1e" >Input current</text>
<text x="181.4" y="374.5" font-size="6.1" text-anchor="middle" fill="#1e1e1e" >sense amp</text>
<line x1="188.1" y1="350.2" x2="272" y2="350.2" stroke="#262626" stroke-width="1.0"/>
<circle cx="206.1" cy="350.2" r="2.0" fill="#262626"/>
<polygon points="280.2,350.2 271.8,346.59999999999997 271.8,353.8" fill="#262626" stroke="none" stroke-width="1.0"/>
<polyline points="280.4,360.5 214.2,360.5 214.2,371.5" fill="none" stroke="#262626" stroke-width="1.0" stroke-linejoin="miter"/>
<line x1="206.1" y1="350.2" x2="206.1" y2="371.5" stroke="#262626" stroke-width="1.0"/>
<path d="M202.2,371.0 Q210.2,375.8 218.2,371.0 Q218.4,383.5 210.4,390.2 Q202.2,383.5 202.2,371.0 Z" fill="#fff" stroke="#262626" stroke-width="1.1"/>
<polyline points="210.4,390.2 210.4,414.8 197.5,414.8" fill="none" stroke="#262626" stroke-width="1.0" stroke-linejoin="miter"/>
<text x="219.3" y="407.99" font-size="5.8" text-anchor="middle" fill="#1e1e1e" >GATE</text>
<text x="219.3" y="414.99" font-size="5.8" text-anchor="middle" fill="#1e1e1e" >OFF</text>
<text x="175.1" y="395.69" font-size="5.8" text-anchor="middle" fill="#1e1e1e" >VIN</text>
<line x1="184.3" y1="391.9" x2="184.3" y2="409.4" stroke="#262626" stroke-width="1.0"/>
<polygon points="171.7,415.8 197.5,403.3 197.5,428.2" fill="#fff" stroke="#262626" stroke-width="1.1"/>
<text x="162.7" y="422.39" font-size="5.8" text-anchor="middle" fill="#1e1e1e" >PMOS</text>
<text x="162.7" y="429.49" font-size="5.8" text-anchor="middle" fill="#1e1e1e" >Driver</text>
<line x1="60.2" y1="415.8" x2="78.5" y2="415.8" stroke="#262626" stroke-width="1.0"/>
<polyline points="62.8,413.0 60.0,415.8 62.8,418.6" fill="none" stroke="#262626" stroke-width="1.0" stroke-linejoin="miter"/>
<line x1="87" y1="415.8" x2="171.7" y2="415.8" stroke="#262626" stroke-width="1.0"/>
<circle cx="101.2" cy="415.8" r="2.0" fill="#262626"/>
<line x1="48.2" y1="473.3" x2="78.5" y2="473.3" stroke="#262626" stroke-width="1.0"/>
<polyline points="75.7,470.5 78.5,473.3 75.7,476.1" fill="none" stroke="#262626" stroke-width="1.0" stroke-linejoin="miter"/>
<text x="56.7" y="484.02" font-size="5.6" text-anchor="middle" fill="#1e1e1e" >External PWM</text>
<text x="56.7" y="490.82" font-size="5.6" text-anchor="middle" fill="#1e1e1e" >100 Hz &#8211; 20 KHz</text>
<line x1="87" y1="473.3" x2="143.2" y2="473.3" stroke="#262626" stroke-width="1.0"/>
<polyline points="140.2,470.3 143.2,473.3 140.2,476.3" fill="none" stroke="#262626" stroke-width="1.0" stroke-linejoin="miter"/>
<circle cx="92.7" cy="473.3" r="2.0" fill="#262626"/>
<circle cx="101.2" cy="473.3" r="2.0" fill="#262626"/>
<circle cx="119.3" cy="473.3" r="2.0" fill="#262626"/>
<line x1="101.2" y1="473.3" x2="101.2" y2="478.2" stroke="#262626" stroke-width="1.0"/>
<polyline points="101.2,478.2 103.8,479.15 98.60000000000001,481.05 103.8,482.95 98.60000000000001,484.85 103.8,486.75 98.60000000000001,488.65000000000003 101.2,489.6" fill="none" stroke="#262626" stroke-width="1.0" stroke-linejoin="miter"/>
<line x1="101.2" y1="489.6" x2="101.2" y2="494.3" stroke="#262626" stroke-width="1.0"/>
<polygon points="96.7,494.0 105.7,494.0 103.0,496.1 101.2,497.3 99.4,496.1" fill="#333" stroke="none" stroke-width="1.0"/>
<text x="105" y="482.02" font-size="5.6" text-anchor="start" fill="#1e1e1e" >50 k&#937;</text>
<text x="126" y="487.72" font-size="5.6" text-anchor="middle" fill="#1e1e1e" >1 MHz</text>
<line x1="135.3" y1="485.7" x2="143.2" y2="485.7" stroke="#262626" stroke-width="1.0"/>
<polyline points="140.6,483.09999999999997 143.2,485.7 140.6,488.3" fill="none" stroke="#262626" stroke-width="1.0" stroke-linejoin="miter"/>
<polyline points="119.3,473.3 119.3,459.5 201.5,459.5" fill="none" stroke="#262626" stroke-width="1.0" stroke-linejoin="miter"/>
<polyline points="193.7,456.7 196.5,459.5 193.7,462.3" fill="none" stroke="#262626" stroke-width="1.0" stroke-linejoin="miter"/>
<rect x="143.6" y="466.6" width="42.599999999999994" height="24.799999999999955" fill="#fff" stroke="#262626" stroke-width="1.0"/>
<text x="164.9" y="477.0" font-size="7.5" text-anchor="middle" fill="#1e1e1e" >Keep-Alive</text>
<text x="164.9" y="485.7" font-size="7.5" text-anchor="middle" fill="#1e1e1e" >Timer</text>
<polyline points="186.2,479.2 195.9,479.2 195.9,467.7 203.5,467.7" fill="none" stroke="#262626" stroke-width="1.0" stroke-linejoin="miter"/>
<path d="M201.5,455.1 Q212.5,455.1 221.4,463.3 Q212.5,471.8 201.5,471.8 Q205.5,463.4 201.5,455.1 Z" fill="#fff" stroke="#262626" stroke-width="1.1"/>
<line x1="221.4" y1="463.3" x2="237.7" y2="463.3" stroke="#262626" stroke-width="1.0"/>
<circle cx="237.7" cy="463.3" r="2.0" fill="#262626"/>
<line x1="237.7" y1="463.3" x2="237.7" y2="441" stroke="#262626" stroke-width="1.0"/>
<polyline points="235.1,443.20000000000005 237.7,440.6 240.29999999999998,443.20000000000005" fill="none" stroke="#262626" stroke-width="1.0" stroke-linejoin="miter"/>
<text x="231.2" y="438.18" font-size="5.5" text-anchor="middle" fill="#1e1e1e" >Enable</text>
<polyline points="237.7,463.3 237.7,496.7 119.5,496.7 119.5,507.3 125.4,507.3" fill="none" stroke="#262626" stroke-width="1.0" stroke-linejoin="miter"/>
<polyline points="92.7,473.3 92.7,515.0 125.4,515.0" fill="none" stroke="#262626" stroke-width="1.0" stroke-linejoin="miter"/>
<path d="M125.4,503.5 L138.8,503.5 A7.9,7.9 0 0 1 138.8,519.3 L125.4,519.3 Z" fill="#fff" stroke="#262626" stroke-width="1.1"/>
<line x1="146.7" y1="511.1" x2="274.4" y2="511.1" stroke="#262626" stroke-width="1.0"/>
<circle cx="156.0" cy="511.1" r="2.0" fill="#262626"/>
<polyline points="156.0,511.1 156.0,525.6 165.3,525.6" fill="none" stroke="#262626" stroke-width="1.0" stroke-linejoin="miter"/>
<polyline points="162.5,522.8000000000001 165.3,525.6 162.5,528.4" fill="none" stroke="#262626" stroke-width="1.0" stroke-linejoin="miter"/>
<text x="156.4" y="531.68" font-size="5.5" text-anchor="middle" fill="#1e1e1e" >start</text>
<rect x="166.0" y="517.6" width="49.69999999999999" height="35.89999999999998" fill="#fff" stroke="#262626" stroke-width="1.0"/>
<text x="190.9" y="533.1" font-size="7.5" text-anchor="middle" fill="#1e1e1e" >Pre-Emptive</text>
<text x="190.9" y="542.1" font-size="7.5" text-anchor="middle" fill="#1e1e1e" >Boost</text>
<line x1="87" y1="547.5" x2="166" y2="547.5" stroke="#262626" stroke-width="1.0"/>
<text x="156.2" y="552.98" font-size="5.5" text-anchor="middle" fill="#1e1e1e" >delay</text>
<line x1="215.7" y1="525.3" x2="310.4" y2="525.3" stroke="#262626" stroke-width="1.0"/>
<polyline points="264.7,522.5 267.5,525.3 264.7,528.0999999999999" fill="none" stroke="#262626" stroke-width="1.0" stroke-linejoin="miter"/>
<text x="247.3" y="523.05" font-size="5.7" text-anchor="middle" fill="#1e1e1e" >LED Enable</text>
<circle cx="282.0" cy="525.3" r="2.0" fill="#262626"/>
<polyline points="78.5,547.5 60.8,547.5 60.8,553.6" fill="none" stroke="#262626" stroke-width="1.0" stroke-linejoin="miter"/>
<polyline points="60.8,553.6 63.4,554.8333333333334 58.199999999999996,557.3 63.4,559.7666666666667 58.199999999999996,562.2333333333333 63.4,564.7 58.199999999999996,567.1666666666666 60.8,568.4" fill="none" stroke="#262626" stroke-width="1.0" stroke-linejoin="miter"/>
<line x1="60.8" y1="568.4" x2="60.8" y2="571.6" stroke="#262626" stroke-width="1.0"/>
<polygon points="56.3,571.3 65.3,571.3 62.599999999999994,573.4 60.8,574.5999999999999 59.0,573.4" fill="#333" stroke="none" stroke-width="1.0"/>
<text x="66.9" y="562.76" font-size="6.0" text-anchor="start" fill="#1e1e1e" >R</text>
<text x="71.0" y="562.9" font-size="3.6" text-anchor="start" fill="#777" >PEB</text>
<text x="97.2" y="573.4" font-size="12.8" text-anchor="start" fill="#1e1e1e" font-weight="bold" >A80605</text>
<polyline points="237.4,582 237.4,570 223.5,570 223.5,573.5" fill="none" stroke="#262626" stroke-width="1.0" stroke-linejoin="miter"/>
<polygon points="219.0,572.9 228.0,572.9 225.3,575.0 223.5,576.1999999999999 221.7,575.0" fill="#333" stroke="none" stroke-width="1.0"/>
<path d="M270.5,451.2 Q278.6,446.8 286.9,451.2 Q287.0,438.5 278.4,431.6 Q270.1,438.5 270.5,451.2 Z" fill="#fff" stroke="#262626" stroke-width="1.1"/>
<line x1="278.4" y1="431.6" x2="278.4" y2="410.2" stroke="#262626" stroke-width="1.0"/>
<polyline points="275.79999999999995,412.40000000000003 278.4,409.8 281.0,412.40000000000003" fill="none" stroke="#262626" stroke-width="1.0" stroke-linejoin="miter"/>
<text x="266.8" y="410.99" font-size="5.8" text-anchor="middle" fill="#1e1e1e" >Boost</text>
<text x="266.8" y="417.09" font-size="5.8" text-anchor="middle" fill="#1e1e1e" >Enable</text>
<polyline points="274.4,449.5 274.4,511.1" fill="none" stroke="#262626" stroke-width="1.0" stroke-linejoin="miter"/>
<polyline points="282.0,449.5 282.0,525.3" fill="none" stroke="#262626" stroke-width="1.0" stroke-linejoin="miter"/>
<polyline points="298.1,367.3 298.1,553.2 383.8,553.2" fill="none" stroke="#262626" stroke-width="1.0" stroke-linejoin="miter"/>
<polyline points="364.6,550.3 367.6,553.3 364.6,556.3" fill="none" stroke="#262626" stroke-width="1.0" stroke-linejoin="miter"/>
<text x="338.7" y="551.59" font-size="5.8" text-anchor="middle" fill="#1e1e1e" >Internal FAULT</text>
<polyline points="319.6,371 319.6,521.1 330,521.1" fill="none" stroke="#262626" stroke-width="1.0" stroke-linejoin="miter"/>
<polyline points="317.0,373.20000000000005 319.6,370.6 322.20000000000005,373.20000000000005" fill="none" stroke="#262626" stroke-width="1.0" stroke-linejoin="miter"/>
<polyline points="310.4,525.3 310.4,401.7 358.9,401.7" fill="none" stroke="#262626" stroke-width="1.0" stroke-linejoin="miter"/>
<polyline points="356.7,399.2 359.2,401.7 356.7,404.2" fill="none" stroke="#262626" stroke-width="1.2" stroke-linejoin="miter"/>
<rect x="379.9" y="329.3" width="64.90000000000003" height="25.30000000000001" fill="#fff" stroke="#262626" stroke-width="1.0"/>
<text x="412.3" y="339.28" font-size="8" text-anchor="middle" fill="#1e1e1e" >Open/Short</text>
<text x="412.3" y="349.08" font-size="8" text-anchor="middle" fill="#1e1e1e" >LED Detect</text>
<line x1="379.9" y1="341.2" x2="333" y2="341.2" stroke="#262626" stroke-width="1.0"/>
<polygon points="325.8,341.2 333.8,337.59999999999997 333.8,344.8" fill="#262626" stroke="none" stroke-width="1.0"/>
<line x1="410.1" y1="354.6" x2="410.1" y2="377.5" stroke="#262626" stroke-width="1.0"/>
<line x1="420.0" y1="354.6" x2="420.0" y2="391.4" stroke="#262626" stroke-width="1.0"/>
<line x1="437.4" y1="354.6" x2="437.4" y2="417.4" stroke="#262626" stroke-width="1.0"/>
<rect x="359.7" y="371.4" width="40.60000000000002" height="53.10000000000002" fill="#fff" stroke="#262626" stroke-width="1.0"/>
<text x="380.0" y="390.1" font-size="8.6" text-anchor="middle" fill="#1e1e1e" >LED</text>
<text x="380.0" y="401.3" font-size="8.6" text-anchor="middle" fill="#1e1e1e" >Driver</text>
<text x="380.0" y="411.9" font-size="8.6" text-anchor="middle" fill="#1e1e1e" >Block</text>
<text x="342.4" y="376.02" font-size="5.6" text-anchor="middle" fill="#1e1e1e" >Chopping</text>
<text x="341.3" y="383.02" font-size="5.6" text-anchor="middle" fill="#1e1e1e" >freq = 4 MHz</text>
<line x1="348.3" y1="385.8" x2="358.9" y2="385.8" stroke="#262626" stroke-width="1.0"/>
<polyline points="356.9,383.5 359.2,385.8 356.9,388.1" fill="none" stroke="#262626" stroke-width="1.2" stroke-linejoin="miter"/>
<text x="338.0" y="399.72" font-size="5.6" text-anchor="middle" fill="#1e1e1e" >On/Off</text>
<text x="340.2" y="417.32" font-size="5.6" text-anchor="middle" fill="#1e1e1e" >Current</text>
<text x="340.2" y="423.92" font-size="5.6" text-anchor="middle" fill="#1e1e1e" >level</text>
<polyline points="351.9,480.3 351.9,415.9 358.9,415.9" fill="none" stroke="#262626" stroke-width="1.0" stroke-linejoin="miter"/>
<polyline points="356.9,413.59999999999997 359.2,415.9 356.9,418.2" fill="none" stroke="#262626" stroke-width="1.2" stroke-linejoin="miter"/>
<line x1="380.6" y1="424.5" x2="380.6" y2="429.5" stroke="#262626" stroke-width="1.0"/>
<polygon points="376.6,429.2 384.6,429.2 382.20000000000005,431.3 380.6,432.5 379.0,431.3" fill="#333" stroke="none" stroke-width="1.0"/>
<text x="385.8" y="433.38" font-size="5.5" text-anchor="start" fill="#1e1e1e" >AGND</text>
<line x1="400.3" y1="377.5" x2="488.4" y2="377.5" stroke="#262626" stroke-width="1.0"/>
<line x1="400.3" y1="391.4" x2="488.4" y2="391.4" stroke="#262626" stroke-width="1.0"/>
<line x1="400.3" y1="417.4" x2="488.4" y2="417.4" stroke="#262626" stroke-width="1.0"/>
<circle cx="410.1" cy="377.5" r="2.0" fill="#262626"/>
<circle cx="420.0" cy="391.4" r="2.0" fill="#262626"/>
<circle cx="437.4" cy="417.4" r="2.0" fill="#262626"/>
<circle cx="428.5" cy="400.3" r="0.45" fill="#555"/>
<circle cx="428.5" cy="403.6" r="0.45" fill="#555"/>
<circle cx="428.5" cy="406.9" r="0.45" fill="#555"/>
<circle cx="508.6" cy="402.0" r="0.45" fill="#555"/>
<circle cx="508.6" cy="405.3" r="0.45" fill="#555"/>
<circle cx="508.6" cy="408.6" r="0.45" fill="#555"/>
<rect x="421.7" y="427.2" width="35.10000000000002" height="22.80000000000001" fill="#fff" stroke="#262626" stroke-width="1.0"/>
<text x="439.3" y="437.34" font-size="7.6" text-anchor="middle" fill="#1e1e1e" >Clock</text>
<text x="439.3" y="446.34" font-size="7.6" text-anchor="middle" fill="#1e1e1e" >detector</text>
<line x1="457.5" y1="437.6" x2="488.4" y2="437.6" stroke="#262626" stroke-width="1.0"/>
<polyline points="460.40000000000003,434.8 457.6,437.6 460.40000000000003,440.40000000000003" fill="none" stroke="#262626" stroke-width="1.0" stroke-linejoin="miter"/>
<circle cx="469.1" cy="437.6" r="2.0" fill="#262626"/>
<line x1="469.1" y1="437.6" x2="469.1" y2="441.5" stroke="#262626" stroke-width="1.0"/>
<polyline points="469.1,441.5 471.70000000000005,442.4916666666667 466.5,444.475 471.70000000000005,446.4583333333333 466.5,448.44166666666666 471.70000000000005,450.42499999999995 466.5,452.4083333333333 469.1,453.4" fill="none" stroke="#262626" stroke-width="1.0" stroke-linejoin="miter"/>
<line x1="469.1" y1="453.4" x2="469.1" y2="459" stroke="#262626" stroke-width="1.0"/>
<line x1="464.6" y1="459.2" x2="473.6" y2="459.2" stroke="#262626" stroke-width="1.1"/>
<line x1="466.13" y1="461.2" x2="472.07000000000005" y2="461.2" stroke="#262626" stroke-width="1.0"/>
<line x1="467.75" y1="463.09999999999997" x2="470.45000000000005" y2="463.09999999999997" stroke="#262626" stroke-width="1.0"/>
<text x="473.0" y="451.44" font-size="5.4" text-anchor="start" fill="#1e1e1e" >100 k&#937;</text>
<polyline points="421.7,437.5 407.0,437.5 407.0,466.4" fill="none" stroke="#262626" stroke-width="1.0" stroke-linejoin="miter"/>
<polyline points="404.2,463.59999999999997 407.0,466.4 409.8,463.59999999999997" fill="none" stroke="#262626" stroke-width="1.0" stroke-linejoin="miter"/>
<text x="391.2" y="455.92" font-size="5.6" text-anchor="middle" fill="#1e1e1e" >Vref</text>
<line x1="394.4" y1="458.2" x2="394.4" y2="466.4" stroke="#262626" stroke-width="1.0"/>
<polyline points="391.59999999999997,463.59999999999997 394.4,466.4 397.2,463.59999999999997" fill="none" stroke="#262626" stroke-width="1.0" stroke-linejoin="miter"/>
<rect x="386.5" y="466.9" width="28.100000000000023" height="30.600000000000023" fill="#fff" stroke="#262626" stroke-width="1.0"/>
<text x="400.5" y="480.09" font-size="8.3" text-anchor="middle" fill="#1e1e1e" >ISET</text>
<text x="400.5" y="489.39" font-size="8.3" text-anchor="middle" fill="#1e1e1e" >Block</text>
<line x1="351.9" y1="480.3" x2="386.5" y2="480.3" stroke="#262626" stroke-width="1.0"/>
<text x="430.6" y="465.29" font-size="5.8" text-anchor="middle" fill="#1e1e1e" >Int VDD</text>
<polyline points="427.7,466.6 427.7,474.8 438.6,474.8" fill="none" stroke="#262626" stroke-width="1.0" stroke-linejoin="miter"/>
<circle cx="444.3" cy="474.7" r="5.8" fill="none" stroke="#2f4a30" stroke-width="1.1"/>
<circle cx="452.2" cy="474.7" r="5.9" fill="none" stroke="#2f4a30" stroke-width="1.1"/>
<line x1="448.5" y1="468.2" x2="456.6" y2="481.6" stroke="#2f4a30" stroke-width="1.1"/>
<polygon points="457.8,483.0 454.3,481.3 457.0,478.8" fill="#2f4a30" stroke="none" stroke-width="1.0"/>
<line x1="458.1" y1="474.8" x2="488.4" y2="474.8" stroke="#262626" stroke-width="1.0"/>
<polyline points="448.5,480.6 448.5,488.4 420,488.4" fill="none" stroke="#262626" stroke-width="1.0" stroke-linejoin="miter"/>
<polygon points="414.8,488.4 420.8,485.7 420.8,491.09999999999997" fill="#262626" stroke="none" stroke-width="1.0"/>
<polyline points="496.4,474.7 507.7,474.7 507.7,480.5" fill="none" stroke="#262626" stroke-width="1.0" stroke-linejoin="miter"/>
<polyline points="507.7,480.5 510.3,481.45 505.09999999999997,483.35 510.3,485.25 505.09999999999997,487.15 510.3,489.04999999999995 505.09999999999997,490.95 507.7,491.9" fill="none" stroke="#262626" stroke-width="1.0" stroke-linejoin="miter"/>
<line x1="507.7" y1="491.9" x2="507.7" y2="498.6" stroke="#262626" stroke-width="1.0"/>
<polygon points="503.2,498.3 512.2,498.3 509.5,500.40000000000003 507.7,501.6 505.9,500.40000000000003" fill="#333" stroke="none" stroke-width="1.0"/>
<text x="512.0" y="485.23" font-size="6.2" text-anchor="start" fill="#1e1e1e" >R</text>
<text x="516.2" y="485.3" font-size="3.6" text-anchor="start" fill="#777" >ISET</text>
<line x1="500.6" y1="514.3" x2="511.8" y2="514.3" stroke="#262626" stroke-width="1.2"/>
<line x1="506.2" y1="514.3" x2="506.2" y2="519.5" stroke="#262626" stroke-width="1.0"/>
<polyline points="506.2,519.5 508.8,520.3833333333333 503.59999999999997,522.15 508.8,523.9166666666666 503.59999999999997,525.6833333333334 508.8,527.45 503.59999999999997,529.2166666666667 506.2,530.1" fill="none" stroke="#262626" stroke-width="1.0" stroke-linejoin="miter"/>
<line x1="506.2" y1="530.1" x2="506.2" y2="537.2" stroke="#262626" stroke-width="1.0"/>
<text x="506.7" y="513.26" font-size="7.4" text-anchor="middle" fill="#1e1e1e" >VDD</text>
<text x="510.6" y="528.03" font-size="6.2" text-anchor="start" fill="#1e1e1e" >R</text>
<text x="514.8" y="528.1" font-size="3.6" text-anchor="start" fill="#777" >PU</text>
<line x1="496.4" y1="537.2" x2="529.5" y2="537.2" stroke="#262626" stroke-width="1.0"/>
<polyline points="526.6,534.2 529.6,537.2 526.6,540.2" fill="none" stroke="#262626" stroke-width="1.0" stroke-linejoin="miter"/>
<circle cx="506.2" cy="537.2" r="2.0" fill="#262626"/>
<rect x="330" y="505.7" width="41.60000000000002" height="28.30000000000001" fill="#fff" stroke="#262626" stroke-width="1.0"/>
<text x="350.8" y="518.08" font-size="8" text-anchor="middle" fill="#1e1e1e" >External</text>
<text x="350.8" y="527.08" font-size="8" text-anchor="middle" fill="#1e1e1e" >FAULT</text>
<polyline points="392.6,537.2 392.6,521.3 372.3,521.3" fill="none" stroke="#262626" stroke-width="1.0" stroke-linejoin="miter"/>
<polyline points="375.1,518.5 372.3,521.3 375.1,524.0999999999999" fill="none" stroke="#262626" stroke-width="1.0" stroke-linejoin="miter"/>
<line x1="392.6" y1="537.2" x2="488.4" y2="537.2" stroke="#262626" stroke-width="1.0"/>
<circle cx="392.6" cy="537.2" r="2.0" fill="#262626"/>
<line x1="383.8" y1="540.0" x2="383.8" y2="555.0" stroke="#444" stroke-width="1.5"/>
<polyline points="383.8,541.0 392.5,541.0 392.5,537.2" fill="none" stroke="#262626" stroke-width="1.0" stroke-linejoin="miter"/>
<line x1="383.8" y1="553.2" x2="392.5" y2="553.2" stroke="#262626" stroke-width="1.0"/>
<line x1="385.5" y1="546.8" x2="392.5" y2="546.8" stroke="#262626" stroke-width="1.0"/>
<line x1="392.5" y1="546.8" x2="392.5" y2="564.4" stroke="#262626" stroke-width="1.0"/>
<polygon points="385.8,546.8 389.8,544.7 389.8,548.9" fill="#262626" stroke="none" stroke-width="1.0"/>
<line x1="388.1" y1="564.6" x2="397.1" y2="564.6" stroke="#262626" stroke-width="1.1"/>
<line x1="389.63" y1="566.6" x2="395.57000000000005" y2="566.6" stroke="#262626" stroke-width="1.0"/>
<line x1="391.25" y1="568.5" x2="393.95000000000005" y2="568.5" stroke="#262626" stroke-width="1.0"/>
<rect x="78.8" y="164.6" width="8" height="8" fill="#fff" stroke="#333" stroke-width="1"/>
<rect x="78.8" y="252.7" width="8" height="8" fill="#fff" stroke="#333" stroke-width="1"/>
<rect x="78.8" y="289.0" width="8" height="8" fill="#fff" stroke="#333" stroke-width="1"/>
<rect x="78.8" y="353.3" width="8" height="8" fill="#fff" stroke="#333" stroke-width="1"/>
<rect x="78.8" y="411.8" width="8" height="8" fill="#fff" stroke="#333" stroke-width="1"/>
<rect x="78.8" y="469.4" width="8" height="8" fill="#fff" stroke="#333" stroke-width="1"/>
<rect x="78.8" y="543.5" width="8" height="8" fill="#fff" stroke="#333" stroke-width="1"/>
<rect x="208.6" y="73.3" width="8" height="8" fill="#fff" stroke="#333" stroke-width="1"/>
<rect x="259.0" y="73.3" width="8" height="8" fill="#fff" stroke="#333" stroke-width="1"/>
<rect x="385.6" y="73.3" width="8" height="8" fill="#fff" stroke="#333" stroke-width="1"/>
<rect x="488.4" y="120.5" width="8" height="8" fill="#fff" stroke="#333" stroke-width="1"/>
<rect x="488.4" y="144.2" width="8" height="8" fill="#fff" stroke="#333" stroke-width="1"/>
<rect x="488.4" y="171.5" width="8" height="8" fill="#fff" stroke="#333" stroke-width="1"/>
<rect x="488.4" y="289.2" width="8" height="8" fill="#fff" stroke="#333" stroke-width="1"/>
<rect x="488.4" y="373.5" width="8" height="8" fill="#fff" stroke="#333" stroke-width="1"/>
<rect x="488.4" y="387.4" width="8" height="8" fill="#fff" stroke="#333" stroke-width="1"/>
<rect x="488.4" y="413.4" width="8" height="8" fill="#fff" stroke="#333" stroke-width="1"/>
<rect x="488.4" y="433.6" width="8" height="8" fill="#fff" stroke="#333" stroke-width="1"/>
<rect x="488.4" y="470.7" width="8" height="8" fill="#fff" stroke="#333" stroke-width="1"/>
<rect x="488.4" y="533.2" width="8" height="8" fill="#fff" stroke="#333" stroke-width="1"/>
<rect x="233.4" y="578.0" width="8" height="8" fill="#fff" stroke="#333" stroke-width="1"/>
<text x="78.9" y="162.18" font-size="8.0" text-anchor="end" fill="#1e1e1e" >COMP</text>
<text x="76.5" y="248.83" font-size="8.7" text-anchor="end" fill="#1e1e1e" >VDD</text>
<text x="74.8" y="288.53" font-size="8.7" text-anchor="end" fill="#1e1e1e" >VIN</text>
<text x="75.8" y="410.62" font-size="8.4" text-anchor="end" fill="#1e1e1e" >GATE</text>
<text x="75.8" y="469.98" font-size="8.0" text-anchor="end" fill="#1e1e1e" >EN/PWM</text>
<text x="72.9" y="543.72" font-size="8.1" text-anchor="end" fill="#1e1e1e" >PEB</text>
<text x="207.0" y="74.32" font-size="8.1" text-anchor="end" fill="#1e1e1e" >FSET/SYNC</text>
<text x="257.0" y="74.24" font-size="7.9" text-anchor="end" fill="#1e1e1e" >DITH</text>
<text x="394.2" y="74.32" font-size="8.1" text-anchor="start" fill="#1e1e1e" >VDRV</text>
<text x="487.2" y="117.73" font-size="8.7" text-anchor="end" fill="#1e1e1e" >GDRV</text>
<text x="481.4" y="141.02" font-size="8.4" text-anchor="end" fill="#1e1e1e" >CS</text>
<text x="487.8" y="168.33" font-size="8.7" text-anchor="end" fill="#1e1e1e" >PGND</text>
<text x="500.5" y="304.83" font-size="8.7" text-anchor="start" fill="#1e1e1e" >OVP</text>
<text x="499.6" y="380.52" font-size="8.4" text-anchor="start" fill="#1e1e1e" >LED1</text>
<text x="499.6" y="394.42" font-size="8.4" text-anchor="start" fill="#1e1e1e" >LED2</text>
<text x="499.6" y="421.32" font-size="8.4" text-anchor="start" fill="#1e1e1e" >LED6</text>
<text x="501.7" y="439.53" font-size="8.7" text-anchor="start" fill="#1e1e1e" >ADIM/</text>
<text x="501.7" y="450.73" font-size="8.7" text-anchor="start" fill="#1e1e1e" >APWM</text>
<text x="498.9" y="471.43" font-size="8.7" text-anchor="start" fill="#1e1e1e" >ISET</text>
<text x="498.8" y="549.12" font-size="8.4" text-anchor="start" fill="#1e1e1e" >FAULT</text>
<text x="244.7" y="578.32" font-size="8.1" text-anchor="start" fill="#1e1e1e" >AGND</text>
</svg></body></html>
